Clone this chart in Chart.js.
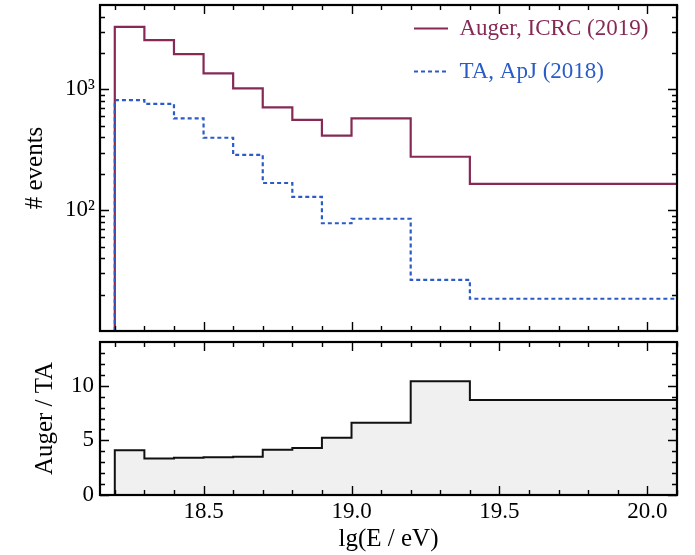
<!DOCTYPE html>
<html><head><meta charset="utf-8">
<script src="https://cdn.jsdelivr.net/npm/chart.js@4.4.1/dist/chart.umd.min.js"></script>
<style>
html,body{margin:0;padding:0;background:#fff;}
#wrap{position:relative;width:695px;height:555px;overflow:hidden;}
#top{position:absolute;left:0;top:0;}
#bot{position:absolute;left:0;top:336px;}
</style></head><body>
<div id="wrap">
<canvas id="top" width="695" height="340"></canvas>
<canvas id="bot" width="695" height="219"></canvas>
</div>
<script>
// ---- data ----
const binEdges = [18.2, 18.3, 18.4, 18.5, 18.6, 18.7, 18.8, 18.9, 19.0, 19.2, 19.4, 20.3];
const augerCounts = [3290, 2560, 1960, 1360, 1020, 710, 560, 415, 575, 277, 165];
const taCounts = [815, 760, 575, 398, 287, 168, 129, 78, 85, 26.5, 18.5];
const ratioValues = [4.1, 3.35, 3.4, 3.45, 3.5, 4.15, 4.3, 5.25, 6.6, 10.4, 8.7];
const seriesLabels = ['Auger, ICRC (2019)', 'TA, ApJ (2018)'];
const xTickValues = [18.5, 19.0, 19.5, 20.0];
const xMinorValues = [18.2, 18.3, 18.4, 18.6, 18.7, 18.8, 18.9, 19.1, 19.2, 19.3, 19.4, 19.6, 19.7, 19.8, 19.9, 20.1];
const countTickValues = [100, 1000];
const countTickLabels = ['10²', '10³'];
const countMinorValues = [20, 30, 40, 50, 60, 70, 80, 90, 200, 300, 400, 500, 600, 700, 800, 900, 2000, 3000, 4000];
const ratioTickValues = [0, 5, 10];
const ratioMinorValues = [1, 2, 3, 4, 6, 7, 8, 9, 11, 12, 13];
const xRange = [18.15, 20.1];
const countRange = [10, 5000];
const ratioRange = [0, 14];

// ---- helpers ----
function stepPoints(values, floor) {
  const pts = [{x: binEdges[0], y: floor}];
  values.forEach((v, i) => pts.push({x: binEdges[i], y: v}));
  pts.push({x: binEdges[binEdges.length - 1], y: values[values.length - 1]});
  return pts;
}

const SERIF = "'Liberation Serif', 'DejaVu Serif', serif";
const AUGER_COLOR = '#862a55';
const TA_COLOR = '#2a5bc8';

const frameTicks = {
  id: 'frameTicks',
  afterDraw(chart, args, o) {
    const {ctx, chartArea: a} = chart;
    const x = chart.scales.x, y = chart.scales.y;
    ctx.save();
    ctx.strokeStyle = '#000';
    ctx.lineWidth = 1.4;
    ctx.beginPath();
    const xt = (vals, len) => vals.forEach(v => {
      const p = Math.round(x.getPixelForValue(v)) + 0.5;
      ctx.moveTo(p, a.bottom); ctx.lineTo(p, a.bottom - len);
      ctx.moveTo(p, a.top); ctx.lineTo(p, a.top + len);
    });
    const yt = (vals, len) => vals.forEach(v => {
      const p = Math.round(y.getPixelForValue(v)) + 0.5;
      ctx.moveTo(a.left, p); ctx.lineTo(a.left + len, p);
      ctx.moveTo(a.right, p); ctx.lineTo(a.right - len, p);
    });
    xt(o.xMajor, 9); xt(o.xMinor, 5);
    yt(o.yMajor, 9); yt(o.yMinor, 5);
    ctx.stroke();
    ctx.lineWidth = 2.2;
    ctx.strokeRect(a.left, a.top, a.right - a.left, a.bottom - a.top);
    ctx.restore();
  }
};

const legendPlace = {
  id: 'legendPlace',
  afterLayout(chart, args, o) {
    const lg = chart.legend;
    if (!lg) return;
    lg.left = chart.chartArea.left + o.dx;
    lg.top = chart.chartArea.top + o.dy;
  }
};

const noPad = s => { s.paddingTop = 0; s.paddingBottom = 0; s.paddingLeft = 0; s.paddingRight = 0; };

const xScaleBase = {
  type: 'linear', min: xRange[0], max: xRange[1],
  grid: {display: false, drawTicks: false},
  border: {display: false}
};

// ---- top chart ----
new Chart(document.getElementById('top'), {
  type: 'line',
  data: {
    datasets: [
      {label: seriesLabels[0], data: stepPoints(augerCounts, countRange[0]), stepped: 'before',
       borderColor: AUGER_COLOR, borderWidth: 2.2, pointRadius: 0, fill: false, order: 2},
      {label: seriesLabels[1], data: stepPoints(taCounts, countRange[0]), stepped: 'before',
       borderColor: TA_COLOR, borderWidth: 2.2, borderDash: [4, 3], pointRadius: 0, fill: false, order: 1}
    ]
  },
  options: {
    responsive: false, animation: false,
    layout: {padding: {left: 0, right: 18, top: 5, bottom: 9}},
    scales: {
      x: Object.assign({}, xScaleBase, {display: false, afterFit: noPad}),
      y: {
        type: 'logarithmic', min: countRange[0], max: countRange[1],
        afterBuildTicks: s => { s.ticks = countTickValues.map(v => ({value: v})); },
        afterFit: s => { s.width = 100; noPad(s); },
        grid: {display: false, drawTicks: false},
        border: {display: false},
        ticks: {
          autoSkip: false, padding: 5, color: '#000',
          font: {family: SERIF, size: 23},
          callback: v => { const i = countTickValues.indexOf(v); return i >= 0 ? countTickLabels[i] : ''; }
        },
        title: {display: true, text: '# events', color: '#000', font: {family: SERIF, size: 25}, padding: {top: 20, bottom: 0}}
      }
    },
    plugins: {
      tooltip: {enabled: false},
      legend: {
        display: true, position: 'chartArea', align: 'start',
        labels: {
          usePointStyle: true, pointStyleWidth: 34, padding: 20,
          font: {family: SERIF, size: 23},
          generateLabels: chart => chart.data.datasets.map((d, i) => ({
            text: d.label, fontColor: d.borderColor, strokeStyle: d.borderColor,
            fillStyle: d.borderColor, lineWidth: d.borderWidth, lineDash: d.borderDash || [],
            pointStyle: 'line', hidden: false, datasetIndex: i
          }))
        }
      },
      legendPlace: {dx: 294, dy: -8},
      frameTicks: {xMajor: xTickValues, xMinor: xMinorValues, yMajor: countTickValues, yMinor: countMinorValues}
    }
  },
  plugins: [frameTicks, legendPlace]
});

// ---- bottom chart ----
new Chart(document.getElementById('bot'), {
  type: 'line',
  data: {
    datasets: [
      {label: 'Auger / TA', data: stepPoints(ratioValues, ratioRange[0]), stepped: 'before',
       borderColor: '#111', borderWidth: 2, pointRadius: 0, fill: 'origin', backgroundColor: '#f0f0f0'}
    ]
  },
  options: {
    responsive: false, animation: false,
    layout: {padding: {left: 0, right: 18, top: 6, bottom: 0}},
    scales: {
      x: Object.assign({}, xScaleBase, {
        afterBuildTicks: s => { s.ticks = xTickValues.map(v => ({value: v})); },
        afterFit: s => { s.height = 60; noPad(s); },
        ticks: {autoSkip: false, maxRotation: 0, padding: 3, color: '#000', font: {family: SERIF, size: 23},
                callback: v => Number(v).toFixed(1)},
        title: {display: true, text: 'lg(E / eV)', color: '#000', font: {family: SERIF, size: 25}, padding: {top: 0, bottom: 1}}
      }),
      y: {
        type: 'linear', min: ratioRange[0], max: ratioRange[1],
        afterBuildTicks: s => { s.ticks = ratioTickValues.map(v => ({value: v})); },
        afterFit: s => { s.width = 100; noPad(s); },
        grid: {display: false, drawTicks: false},
        border: {display: false},
        ticks: {autoSkip: false, padding: 6, color: '#000', font: {family: SERIF, size: 23}},
        title: {display: true, text: 'Auger / TA', color: '#000', font: {family: SERIF, size: 25}, padding: {top: 30, bottom: 0}}
      }
    },
    plugins: {
      tooltip: {enabled: false},
      legend: {display: false},
      frameTicks: {xMajor: xTickValues, xMinor: xMinorValues, yMajor: ratioTickValues, yMinor: ratioMinorValues}
    }
  },
  plugins: [frameTicks]
});
</script>
</body></html>
